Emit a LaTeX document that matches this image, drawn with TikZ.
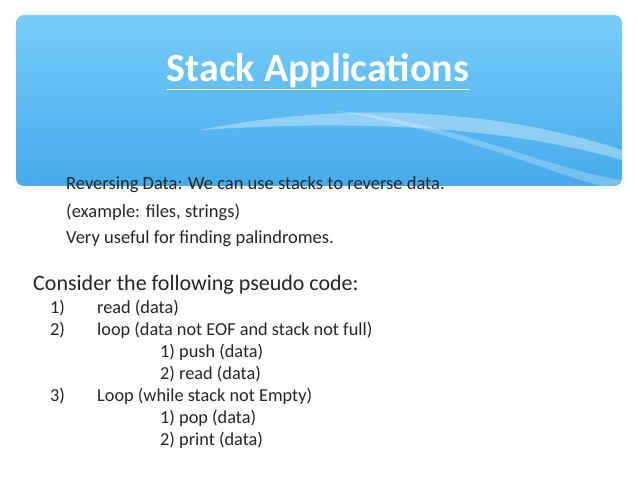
\documentclass[tikz,border=0pt]{standalone}
\usepackage{fontspec}
\setmainfont{Carlito}
\begin{document}
\begin{tikzpicture}[x=1pt,y=-1pt,
  body/.style={anchor=west,inner sep=0pt,font=\fontsize{18.5}{22}\selectfont,text=black!85},
  code/.style={anchor=west,inner sep=0pt,font=\fontsize{18.3}{20}\selectfont,text=black!85}]
\useasboundingbox[fill=white] (0,0) rectangle (638,478);
\shade[rounded corners=8pt,top color={rgb,255:red,120;green,205;blue,250},bottom color={rgb,255:red,70;green,170;blue,235}] (16,15) rectangle (622,186);
\fill[white,opacity=0.35] (200,130) .. controls (350,100) and (500,110) .. (622,150) -- (622,160) .. controls (500,125) and (350,120) .. (200,130);
\fill[white,opacity=0.25] (330,110) .. controls (450,120) and (550,170) .. (622,180) -- (622,186) -- (600,186) .. controls (530,165) and (450,130) .. (330,110);
\node[font=\bfseries\fontsize{40}{46}\selectfont,text=white,inner sep=0pt] (title) at (318,72) {\underline{Stack Applications}};
\node[anchor=center,inner sep=0pt,text={rgb,255:red,90;green,180;blue,235},font=\fontsize{12}{14}\selectfont] (bul) at (36,186) {*};
\node[body] (l1) at (66,185) {Reversing Data: We can use stacks to reverse data.};
\node[body] (l2) at (66,212) {(example: files, strings)};
\node[body] (l3) at (66,239) {Very useful for finding palindromes.};
\node[body,font=\fontsize{22}{24}\selectfont] (c) at (33,285) {Consider the following pseudo code:};
\node[code] (n1) at (50,308) {1)}; \node[code] (t1) at (97,308) {read (data)};
\node[code] (n2) at (50,330) {2)}; \node[code] (t2) at (97,330) {loop (data not EOF and stack not full)};
\node[code] (s1) at (160,352) {1) push (data)};
\node[code] (s2) at (160,374) {2) read (data)};
\node[code] (n3) at (50,396) {3)}; \node[code] (t3) at (97,396) {Loop (while stack not Empty)};
\node[code] (s3) at (160,418) {1) pop (data)};
\node[code] (s4) at (160,440) {2) print (data)};
\end{tikzpicture}
\end{document}
